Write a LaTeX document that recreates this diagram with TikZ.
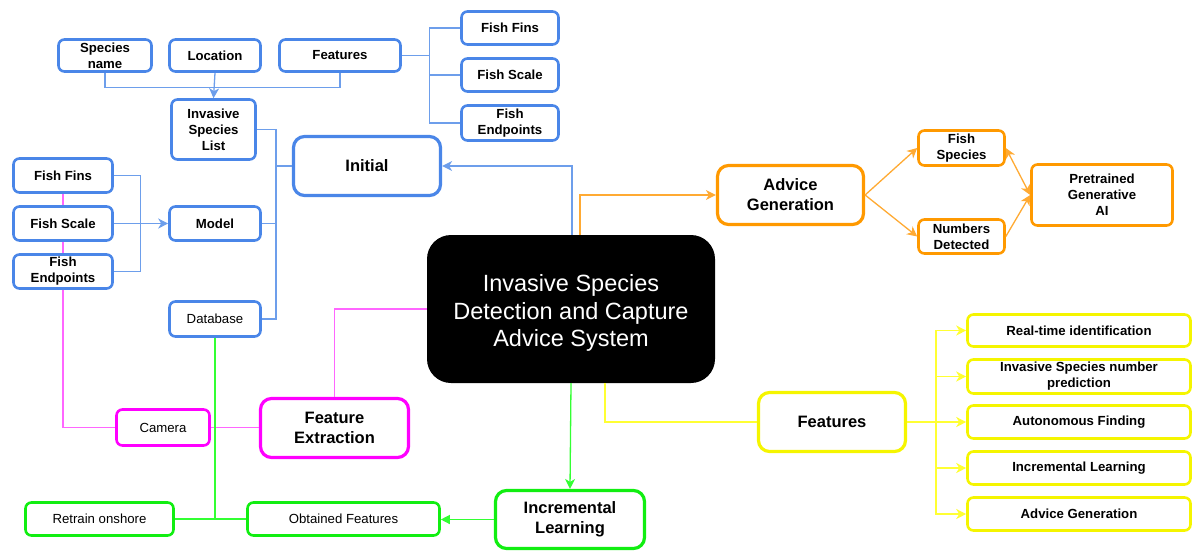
\documentclass[tikz,border=0pt]{standalone}
\usepackage{fontspec}
\setmainfont{Liberation Sans}
\usetikzlibrary{arrows.meta}
\definecolor{blueB}{HTML}{4A86E8}
\definecolor{blueL}{HTML}{6D9EEB}
\definecolor{orgB}{HTML}{FF9900}
\definecolor{orgL}{HTML}{FFAA33}
\definecolor{yelB}{HTML}{F5F500}
\definecolor{yelL}{HTML}{FFFF33}
\definecolor{magB}{HTML}{FF00FF}
\definecolor{magL}{HTML}{FF66FF}
\definecolor{grnB}{HTML}{11EE11}
\definecolor{grnL}{HTML}{33FF33}
\tikzset{
  sbox/.style={draw, fill=white, rounded corners=6pt, line width=2.6pt, align=center, inner sep=0pt,
    font=\bfseries\fontsize{13.2}{16}\selectfont},
  plain/.style={font=\fontsize{13.2}{16}\selectfont},
  bbox/.style={draw, fill=white, rounded corners=11pt, line width=3.2pt, align=center, inner sep=0pt,
    font=\bfseries\fontsize{16.5}{20}\selectfont},
  conn/.style={line width=1.3pt},
  arr/.style={-{Stealth[length=10pt,width=10pt,inset=3pt]}},
  darr/.style={{Stealth[length=10pt,width=10pt,inset=3pt]}-{Stealth[length=10pt,width=10pt,inset=3pt]}},
}
\begin{document}
\begin{tikzpicture}[x=1pt,y=-1pt]
\useasboundingbox (0,0) rectangle (1194,552);
% central
\node[fill=black, rounded corners=24pt, minimum width=288pt, minimum height=148pt, inner sep=0pt,
  text=white, font=\fontsize{23.5}{27.5}\selectfont] (cen) at (571,309)
  {\raisebox{-4.5pt}[\height][\depth]{\begin{tabular}{@{}c@{}}Invasive Species\\Detection and Capture\\Advice System\end{tabular}}};
% blue
\node[sbox, draw=blueB, minimum width=93pt, minimum height=32pt] (sn) at (105,55.5) {Species\\name};
\node[sbox, draw=blueB, minimum width=91pt, minimum height=32pt] (loc) at (215,55.5) {Location};
\node[sbox, draw=blueB, minimum width=121pt, minimum height=32pt] (feat) at (340,55.5) {Features};
\node[sbox, draw=blueB, minimum width=97pt, minimum height=33pt] (ff1) at (510,28) {Fish Fins};
\node[sbox, draw=blueB, minimum width=97pt, minimum height=33pt] (fs1) at (510,75) {Fish Scale};
\node[sbox, draw=blueB, minimum width=97pt, minimum height=35pt] (fe1) at (510,123) {Fish\\Endpoints};
\node[sbox, draw=blueB, minimum width=84pt, minimum height=60pt] (isl) at (213.5,129.5) {Invasive\\Species\\List};
\node[bbox, draw=blueB, minimum width=147pt, minimum height=59pt] (init) at (367,166) {Initial};
\node[sbox, draw=blueB, minimum width=99pt, minimum height=34pt] (ff2) at (63,175.5) {Fish Fins};
\node[sbox, draw=blueB, minimum width=99pt, minimum height=34pt] (fs2) at (63,223.5) {Fish Scale};
\node[sbox, draw=blueB, minimum width=99pt, minimum height=34pt] (fe2) at (63,271.5) {Fish\\Endpoints};
\node[sbox, draw=blueB, minimum width=91pt, minimum height=34pt] (model) at (215,223.5) {Model};
\node[sbox, plain, draw=blueB, minimum width=91pt, minimum height=35pt] (db) at (215,319) {Database};
% orange
\node[bbox, draw=orgB, minimum width=146pt, minimum height=59pt] (adv) at (790.5,195) {Advice\\Generation};
\node[sbox, draw=orgB, minimum width=86pt, minimum height=35pt] (fsp) at (961.5,148) {Fish\\Species};
\node[sbox, draw=orgB, minimum width=86pt, minimum height=34pt] (nd) at (961.5,236.5) {Numbers\\Detected};
\node[sbox, draw=orgB, minimum width=141pt, minimum height=61pt] (pga) at (1102,195) {Pretrained\\Generative\\AI};
% yellow
\node[bbox, draw=yelB, minimum width=147pt, minimum height=59pt] (yf) at (832,422) {Features};
\node[sbox, draw=yelB, minimum width=223pt, minimum height=32pt] (r1) at (1079,330.5) {Real-time identification};
\node[sbox, draw=yelB, minimum width=223pt, minimum height=34pt] (r2) at (1079,376.5) {Invasive Species number\\prediction};
\node[sbox, draw=yelB, minimum width=223pt, minimum height=33pt] (r3) at (1079,422) {Autonomous Finding};
\node[sbox, draw=yelB, minimum width=223pt, minimum height=33pt] (r4) at (1079,468) {Incremental Learning};
\node[sbox, draw=yelB, minimum width=223pt, minimum height=33pt] (r5) at (1079,514) {Advice Generation};
% magenta
\node[bbox, draw=magB, minimum width=148pt, minimum height=59pt] (fx) at (334.5,428) {Feature\\Extraction};
\node[sbox, plain, draw=magB, minimum width=93pt, minimum height=36pt] (cam) at (163,427.5) {Camera};
% green
\node[bbox, draw=grnB, minimum width=149pt, minimum height=58pt] (il) at (570,519.5) {Incremental\\Learning};
\node[sbox, plain, draw=grnB, minimum width=192pt, minimum height=33pt] (of) at (343.5,519) {Obtained Features};
\node[sbox, plain, draw=grnB, minimum width=148pt, minimum height=33pt] (ro) at (99.5,519) {Retrain onshore};

% ---- connectors
\begin{scope}[conn, draw=blueL]
  \draw (sn.south) -- ++(0,15) -| (feat.south);
  \draw[arr] (loc.south) -- (isl.north);
  \draw (feat.east) -- ++(28,0) |- (ff1.west);
  \draw (feat.east) ++(28,0) |- (fs1.west);
  \draw (feat.east) ++(28,0) |- (fe1.west);
  \coordinate (busA) at (276,0);
  \draw (isl.east) -- (isl.east -| busA) -- (db.east -| busA) -- (db.east);
  \draw (model.east) -- (model.east -| busA);
  \draw[line width=2.2pt] (init.west) -- (init.west -| busA);
  \draw[arr] ([xshift=1pt]cen.north) |- (init.east);
  \draw (ff2.east) -- ++(27,0) |- (fe2.east);
  \draw[arr] (fs2.east) -- (model.west);
\end{scope}
\begin{scope}[conn, draw=magL]
  \draw (ff2.south) -- (fs2.north);
  \draw (fs2.south) -- (fe2.north);
  \draw (fe2.south) |- (cam.west);
  \draw (cam.east) -- (cam.east -| fx.west);
  \draw (fx.north) |- (cen.west);
\end{scope}
\begin{scope}[conn, draw=grnL]
  \draw[arr] (cen.south) -- (il.north);
  \draw[-{Triangle[length=9pt,width=9pt]}] (il.west) -- (il.west -| of.east);
  \draw (of.west) -- (ro.east);
  \draw (db.south) -- (db.south |- of.west);
\end{scope}
\begin{scope}[conn, draw=orgL]
  \draw[arr] ([xshift=9pt]cen.north) |- (adv.west);
  \draw[arr] (adv.east) -- (fsp.west);
  \draw[arr] (adv.east) -- (nd.west);
  \draw[darr] (fsp.east) -- (pga.west);
  \draw[arr] (nd.east) -- (pga.west);
\end{scope}
\begin{scope}[conn, draw=yelL]
  \draw ([xshift=34pt]cen.south) |- (yf.west);
  \draw (yf.east) -- ++(29,0) coordinate (yb);
  \draw[arr] (yb) |- (r1.west);
  \draw[arr] (yb) |- (r2.west);
  \draw[arr] (yb) |- (r3.west);
  \draw[arr] (yb) |- (r4.west);
  \draw[arr] (yb) |- (r5.west);
\end{scope}
\end{tikzpicture}
\end{document}
